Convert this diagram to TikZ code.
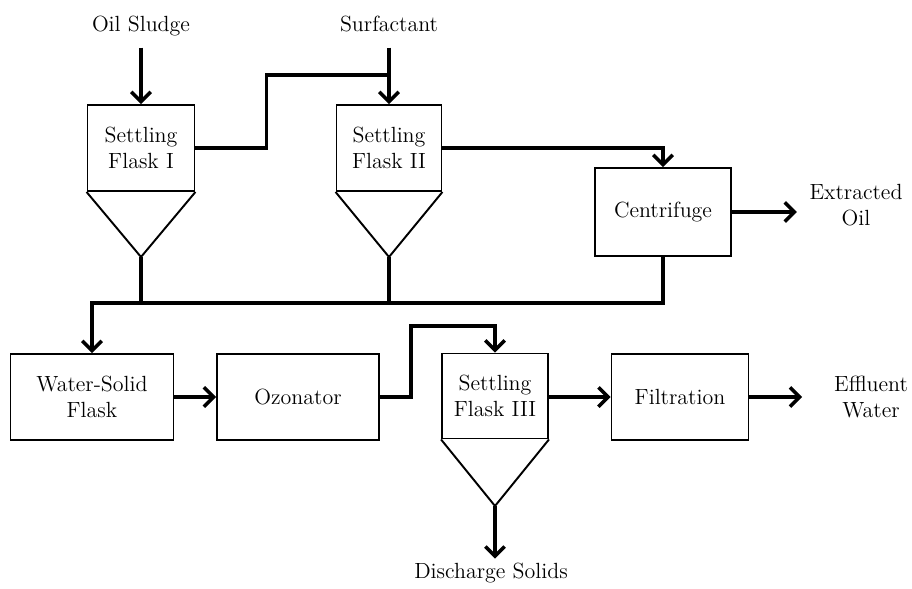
\documentclass[tikz,border=0pt]{standalone}
\usepackage{tikz}
\usetikzlibrary{arrows.meta}
\begin{document}
\begin{tikzpicture}[x=0.02cm,y=-0.02cm,
    font=\fontsize{12.5}{15}\selectfont,
    unit/.style={draw,line width=1.1pt,align=center,inner sep=2pt},
    pipe/.style={line width=2pt},
    flow/.style={pipe,-{Straight Barb[length=5.5pt,width=11pt]}},
    label/.style={align=center,inner sep=2pt,text height=1.6ex,text depth=0.5ex}]
    \useasboundingbox (0,0) rectangle (912,588);
    %Feeds
    \node[label] (sludge) at (141,27) {Oil Sludge};
    \node[label] (surf) at (389,27) {Surfactant};
    %Settling flasks
    \node[unit,minimum width=2.14cm,minimum height=1.72cm] (f1) at (141,148) {Settling\\Flask I};
    \node[unit,minimum width=2.1cm,minimum height=1.72cm] (f2) at (389,148) {Settling\\Flask II};
    \node[unit,minimum width=2.12cm,minimum height=1.7cm] (f3) at (495,396) {Settling\\Flask III};
    \coordinate (a1) at (141,257);
    \coordinate (a2) at (389,257);
    \coordinate (a3) at (495,506);
    \draw[line width=1.1pt] (f1.south west) -- (a1) -- (f1.south east);
    \draw[line width=1.1pt] (f2.south west) -- (a2) -- (f2.south east);
    \draw[line width=1.1pt] (f3.south west) -- (a3) -- (f3.south east);
    %Other units
    \node[unit,minimum width=2.72cm,minimum height=1.76cm] (cent) at (663,212) {Centrifuge};
    \node[unit,minimum width=3.26cm,minimum height=1.72cm] (ws) at (92,397) {Water-Solid\\Flask};
    \node[unit,minimum width=3.24cm,minimum height=1.72cm] (oz) at (298,397) {Ozonator};
    \node[unit,minimum width=2.74cm,minimum height=1.72cm] (filt) at (680,397) {Filtration};
    %Products
    \node[label,text height=,text depth=] (oil) at (856,205) {Extracted\\Oil};
    \node[label,text height=,text depth=] (water) at (871,397) {Effluent\\Water};
    \node[label] (solids) at (491,574) {Discharge Solids};
    %Junctions
    \coordinate (j1) at (389,75);
    \coordinate (bus) at (92,303);
    %Flows
    \draw[flow,shorten <=5pt] (sludge.south) -- (f1.north);
    \draw[flow,shorten <=5pt] (surf.south) -- (f2.north);
    \draw[pipe] (f1.east) -- ++(71,0) |- (j1);
    \draw[flow] (f2.east) -| (cent.north);
    \draw[flow,shorten >=5pt] (cent.east) -- (oil.west |- cent.east);
    \draw[pipe] (a1) -- (a1 |- bus);
    \draw[pipe] (a2) -- (a2 |- bus);
    \draw[flow] (cent.south) |- (bus) -- (ws.north);
    \draw[flow] (ws) -- (oz);
    \draw[flow] (oz.east) -- ++(31,0) -- ++(0,-71) -| (f3.north);
    \draw[flow] (f3.east |- filt.west) -- (filt.west);
    \draw[flow,shorten >=16pt] (filt.east) -- (water.west);
    \draw[flow,shorten >=2pt] (a3) -- (a3 |- solids.north);
\end{tikzpicture}
\end{document}
